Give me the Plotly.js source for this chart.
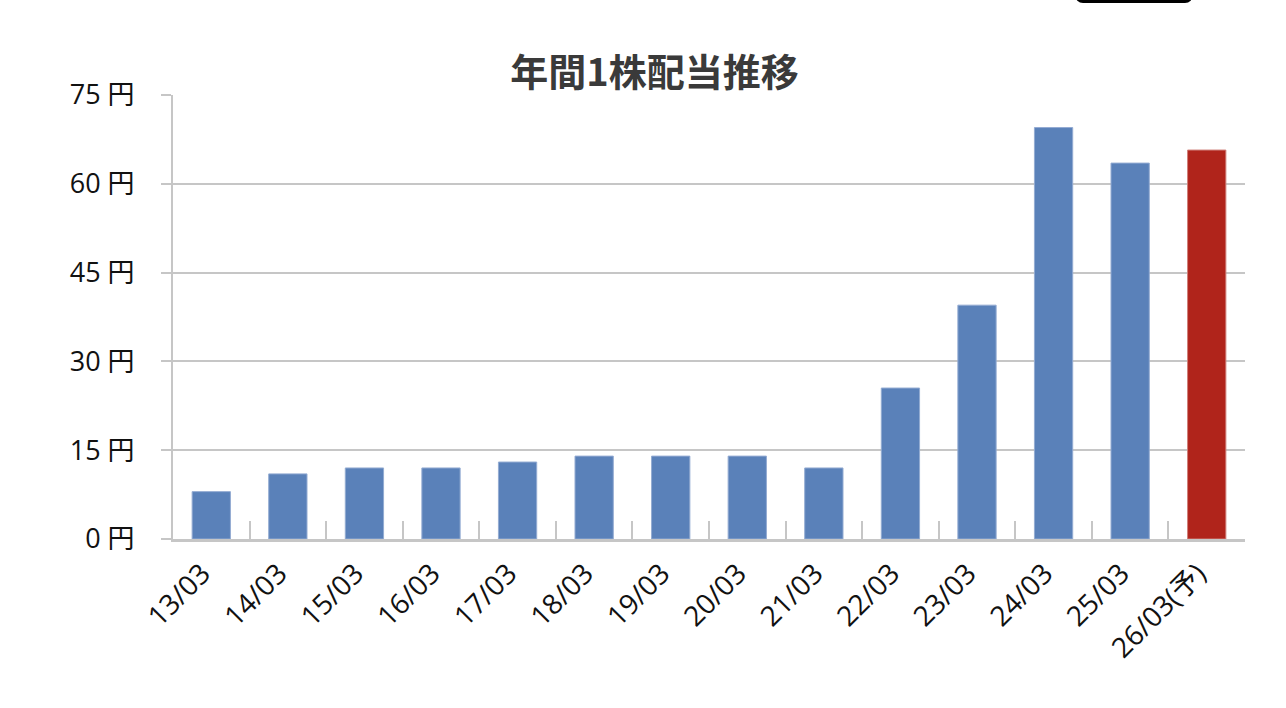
<!DOCTYPE html>
<html>
<head>
<meta charset="utf-8">
<script src="https://cdn.plot.ly/plotly-3.0.1.min.js"></script>
<style>
html,body{margin:0;padding:0;background:#fff;}
#chart{width:1286px;height:708px;}
#btn{position:absolute;left:1075px;top:-20px;width:118px;height:23px;background:#000;border-radius:8px;}
</style>
</head>
<body>
<div id="chart"></div>
<div id="btn"></div>
<script>
const chartTitle = '年間1株配当推移';
const categories = ['13/03','14/03','15/03','16/03','17/03','18/03','19/03','20/03','21/03','22/03','23/03','24/03','25/03','26/03(予)'];
const dividends = [8, 11, 12, 12, 13, 14, 14, 14, 12, 25.5, 39.5, 69.5, 63.5, 65.7];
const isForecast = [false,false,false,false,false,false,false,false,false,false,false,false,false,true];
const yTicks = [0, 15, 30, 45, 60, 75];
const yUnit = ' 円';

const blue = '#5a81b9', red = '#b0241b';
const blueLine = '#93abd2', redLine = '#cf7f79';

const trace = {
  type: 'bar',
  x: categories,
  y: dividends,
  marker: {
    color: isForecast.map(f => f ? red : blue),
    line: {color: isForecast.map(f => f ? redLine : blueLine), width: 1}
  },
  hoverinfo: 'x+y'
};

const font = 'Open Sans, Noto Sans CJK JP, sans-serif';
const layout = {
  width: 1286, height: 708,
  margin: {l: 173, r: 41, t: 95, b: 169, pad: 0},
  paper_bgcolor: '#fff', plot_bgcolor: '#fff',
  showlegend: false,
  bargap: 0.5,
  title: {
    text: chartTitle,
    font: {family: 'Noto Sans CJK JP, sans-serif', size: 38, color: '#3a3a3a', weight: 'bold'},
    xref: 'container', x: 0.509, xanchor: 'center',
    yref: 'container', y: 0.897, yanchor: 'middle'
  },
  xaxis: {
    type: 'category',
    tickangle: -45,
    tickfont: {family: font, size: 28, color: '#111'},
    ticklabelshift: -9,
    ticklabelstandoff: 4,
    ticks: 'inside', tickson: 'boundaries', ticklen: 18, tickwidth: 2, tickcolor: '#c6c6c6',
    showline: true, linecolor: '#c6c6c6', linewidth: 3,
    showgrid: false, zeroline: false,
    fixedrange: true
  },
  yaxis: {
    range: [0, 75],
    tickvals: yTicks,
    ticktext: yTicks.map(v => v + yUnit),
    tickfont: {family: font, size: 27, color: '#111'},
    ticklabelstandoff: 21,
    ticks: 'outside', ticklen: 10, tickwidth: 2, tickcolor: '#c6c6c6',
    showline: true, linecolor: '#c6c6c6', linewidth: 2,
    showgrid: true, gridcolor: '#c6c6c6', gridwidth: 2,
    zeroline: false,
    fixedrange: true
  }
};

Plotly.newPlot('chart', [trace], layout, {displayModeBar: false, staticPlot: true});
</script>
</body>
</html>
